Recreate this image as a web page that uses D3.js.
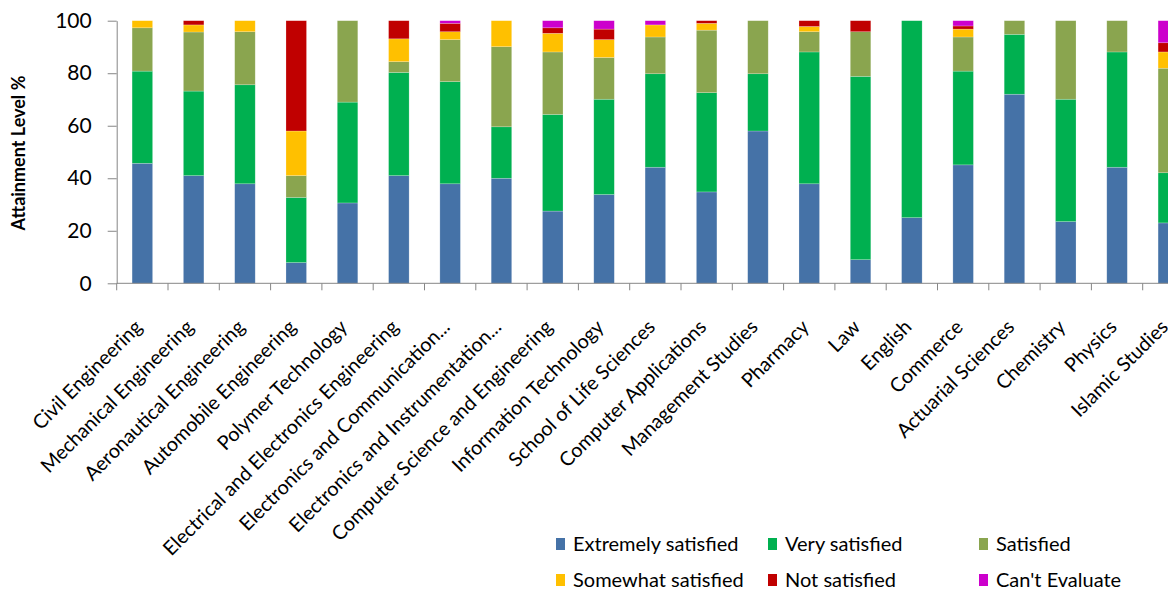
<!DOCTYPE html>
<html>
<head>
<meta charset="utf-8">
<script src="https://cdn.jsdelivr.net/npm/d3@7"></script>
<style>
  body { margin: 0; background: #fff; overflow: hidden; }
  text { font-family: Lato, "Liberation Sans", sans-serif; fill: #000; }
</style>
</head>
<body>
<svg id="chart" width="1168" height="591"></svg>
<script>
// categories and values
const categories = [
    "Civil Engineering", "Mechanical Engineering", "Aeronautical Engineering",
    "Automobile Engineering", "Polymer Technology", "Electrical and Electronics Engineering",
    "Electronics and Communication...", "Electronics and Instrumentation...",
    "Computer Science and Engineering", "Information Technology", "School of Life Sciences",
    "Computer Applications", "Management Studies", "Pharmacy", "Law", "English",
    "Commerce", "Actuarial Sciences", "Chemistry", "Physics", "Islamic  Studies"
];
const extremely = [45.7, 41.0, 37.9, 7.9, 30.6, 41.0, 37.9, 40.0, 27.5, 33.8, 44.2, 34.8, 58.0, 37.9, 9.0, 25.0, 45.1, 72.0, 23.5, 44.2, 23.0];
const very      = [35.1, 32.2, 37.7, 24.8, 38.4, 39.3, 38.9, 19.6, 36.8, 36.3, 35.6, 37.8, 21.8, 50.2, 69.8, 75.0, 35.7, 22.8, 46.6, 43.9, 19.1];
const satisfied = [16.5, 22.5, 20.2, 8.3, 31.0, 4.1, 16.0, 30.5, 23.8, 15.9, 14.0, 23.8, 20.2, 7.7, 17.0, 0, 13.0, 5.2, 29.9, 11.9, 39.8];
const somewhat  = [2.7, 2.7, 4.2, 17.0, 0, 8.7, 3.0, 9.9, 7.1, 6.8, 4.6, 2.6, 0, 2.0, 0, 0, 3.0, 0, 0, 0, 6.2];
const notSat    = [0, 1.6, 0, 42.0, 0, 6.9, 3.2, 0, 2.1, 4.0, 0, 1.0, 0, 2.2, 4.2, 0, 1.2, 0, 0, 0, 3.5];
const cantEval  = [0, 0, 0, 0, 0, 0, 1.0, 0, 2.7, 3.2, 1.6, 0, 0, 0, 0, 0, 2.0, 0, 0, 0, 8.4];

const seriesNames = ["Extremely satisfied", "Very satisfied", "Satisfied",
                     "Somewhat satisfied", "Not satisfied", "Can't Evaluate"];
const seriesValues = [extremely, very, satisfied, somewhat, notSat, cantEval];
const colors = ["#4572a7", "#00b050", "#8aa54f", "#ffc000", "#c00000", "#cc00cc"];
const yTicks = [0, 20, 40, 60, 80, 100];

const svg = d3.select("#chart");

// build rows for d3.stack
const rows = categories.map((c, i) => {
    const r = { cat: c };
    seriesNames.forEach((s, j) => { r[s] = seriesValues[j][i]; });
    return r;
});
const stacked = d3.stack().keys(seriesNames)(rows);

const x0 = 116.7, step = 51.3;
const x = d3.scaleBand()
    .domain(categories)
    .range([x0, x0 + step * categories.length])
    .paddingInner(0.6)
    .paddingOuter(0.3);

const y = d3.scaleLinear().domain([0, 100]).range([283.3, 20.7]);

// bars
svg.append("g")
    .selectAll("g")
    .data(stacked)
    .enter().append("g")
    .attr("fill", (d, i) => colors[i])
    .selectAll("rect")
    .data(d => d)
    .enter().append("rect")
    .attr("x", d => x(d.data.cat))
    .attr("width", x.bandwidth())
    .attr("y", d => y(d[1]))
    .attr("height", d => Math.max(0, y(d[0]) - y(d[1])))
    .attr("stroke", "rgba(255,255,255,0.35)")
    .attr("stroke-width", 0.6);

// y axis
const yAxis = svg.append("g")
    .attr("transform", `translate(${x0},0)`)
    .call(d3.axisLeft(y).tickValues(yTicks).tickSize(9).tickPadding(16).tickSizeOuter(0));
yAxis.select(".domain").attr("stroke", "#868686");
yAxis.selectAll(".tick line").attr("stroke", "#868686");
yAxis.selectAll(".tick text")
    .attr("font-size", 21)
    .style("font-family", "Lato, sans-serif");

// x axis line and ticks between categories
const xr = x.range();
svg.append("line")
    .attr("x1", xr[0]).attr("x2", xr[1])
    .attr("y1", y(0)).attr("y2", y(0))
    .attr("stroke", "#868686");
svg.append("g")
    .selectAll("line")
    .data(d3.range(categories.length + 1))
    .enter().append("line")
    .attr("x1", i => xr[0] + i * x.step())
    .attr("x2", i => xr[0] + i * x.step())
    .attr("y1", y(0))
    .attr("y2", y(0) + 7)
    .attr("stroke", "#868686");

// category labels, rotated
svg.append("g")
    .selectAll("text")
    .data(categories)
    .enter().append("text")
    .attr("transform", d => `translate(${x(d) + x.bandwidth() / 2 + 1},${y(0) + 45}) rotate(-45)`)
    .attr("text-anchor", "end")
    .attr("font-size", 19.8)
    .text(d => d);

// y title
svg.append("text")
    .attr("transform", "translate(25,153) rotate(-90)")
    .attr("text-anchor", "middle")
    .attr("font-size", 18)
    .attr("font-weight", "bold")
    .text("Attainment Level  %");

// legend
const legX = [556, 768, 979], legY = [551, 587];
const leg = svg.append("g")
    .selectAll("g")
    .data(seriesNames)
    .enter().append("g")
    .attr("transform", (d, i) => `translate(${legX[i % 3]},${legY[Math.floor(i / 3)]})`);
leg.append("rect")
    .attr("y", -13)
    .attr("width", 9).attr("height", 12)
    .attr("fill", (d, i) => colors[i]);
leg.append("text")
    .attr("x", 17)
    .attr("font-size", 20)
    .text(d => d);
</script>
</body>
</html>
